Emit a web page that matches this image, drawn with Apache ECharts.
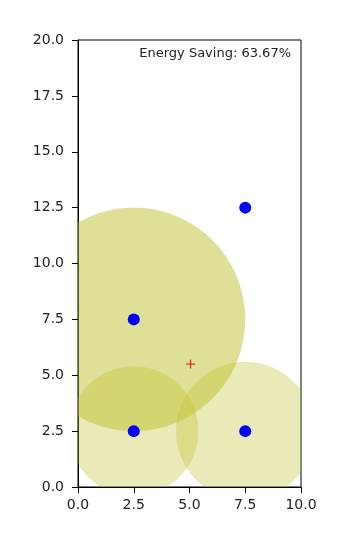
<!DOCTYPE html>
<html><head><meta charset="utf-8">
<script src="https://cdn.jsdelivr.net/npm/echarts@6/dist/echarts.min.js"></script>
<style>html,body{margin:0;padding:0;background:#fff}#c{width:355px;height:540px}</style>
</head><body><div id="c"></div>
<script>
var pointX = [2.5, 7.5, 2.5, 7.5];
var pointY = [2.5, 2.5, 7.5, 12.5];
var circleX = [2.5, 2.5, 7.5];
var circleY = [7.5, 2.5, 2.5];
var circleR = [5.0, 2.9, 3.1];
var circleAlpha = [0.47, 0.32, 0.32];
var targetX = [5.05];
var targetY = [5.5];
var annotation = 'Energy Saving: 63.67%';
var xTicks = [0, 2.5, 5, 7.5, 10];
var yTicks = [0, 2.5, 5, 7.5, 10, 12.5, 15, 17.5, 20];

var font = 'DejaVu Sans';
var xMin = xTicks[0], xMax = xTicks[xTicks.length - 1];
var yMin = yTicks[0], yMax = yTicks[yTicks.length - 1];
var chart = echarts.init(document.getElementById('c'));
var circles = circleX.map(function (x, i) { return [x, circleY[i], circleR[i], circleAlpha[i]]; });
var pts = pointX.map(function (x, i) { return [x, pointY[i]]; });
var tgt = targetX.map(function (x, i) { return [x, targetY[i]]; });

function axisCommon(min, max, margin) {
  return {
    type: 'value', min: min, max: max, interval: 2.5,
    axisLine: { show: true, onZero: false, lineStyle: { color: '#000', width: 1 } },
    axisTick: { show: true, inside: false, length: 6, lineStyle: { color: '#000' } },
    splitLine: { show: false },
    axisLabel: { color: '#222', fontFamily: font, fontSize: 14, margin: margin, formatter: function (v) { return v.toFixed(1); } }
  };
}
function clamp(v, a, b) { return Math.max(a, Math.min(b, v)); }

chart.setOption({
  animation: false,
  grid: { left: 78, right: 54, top: 40, bottom: 53, show: true, borderColor: '#000', borderWidth: 1, backgroundColor: 'transparent' },
  xAxis: axisCommon(xMin, xMax, 11),
  yAxis: axisCommon(yMin, yMax, 14),
  graphic: [{
    type: 'text', right: 64, top: 47,
    style: { text: annotation, font: '13px "DejaVu Sans"', fill: '#222' }
  }],
  series: [{
    type: 'custom',
    data: circles,
    renderItem: function (params, api) {
      var cx = api.value(0), cy = api.value(1), r = api.value(2), a = api.value(3);
      var poly = [];
      var N = 240;
      for (var k = 0; k < N; k++) {
        var t = 2 * Math.PI * k / N;
        var px = clamp(cx + r * Math.cos(t), xMin, xMax);
        var py = clamp(cy + r * Math.sin(t), yMin, yMax);
        poly.push(api.coord([px, py]));
      }
      return {
        type: 'polygon',
        shape: { points: poly },
        style: { fill: 'rgba(188,189,34,' + a + ')', stroke: null }
      };
    },
    z: 1
  }, {
    type: 'scatter', data: pts, symbol: 'circle', symbolSize: 12,
    itemStyle: { color: '#0000ff', opacity: 1 }, z: 3
  }, {
    type: 'scatter', data: tgt,
    symbol: 'path://M5,0 L5,10 M0,5 L10,5', symbolSize: 9,
    itemStyle: { color: 'none', borderColor: '#ff0000', borderWidth: 1, opacity: 1 }, z: 4
  }]
});
</script></body></html>
